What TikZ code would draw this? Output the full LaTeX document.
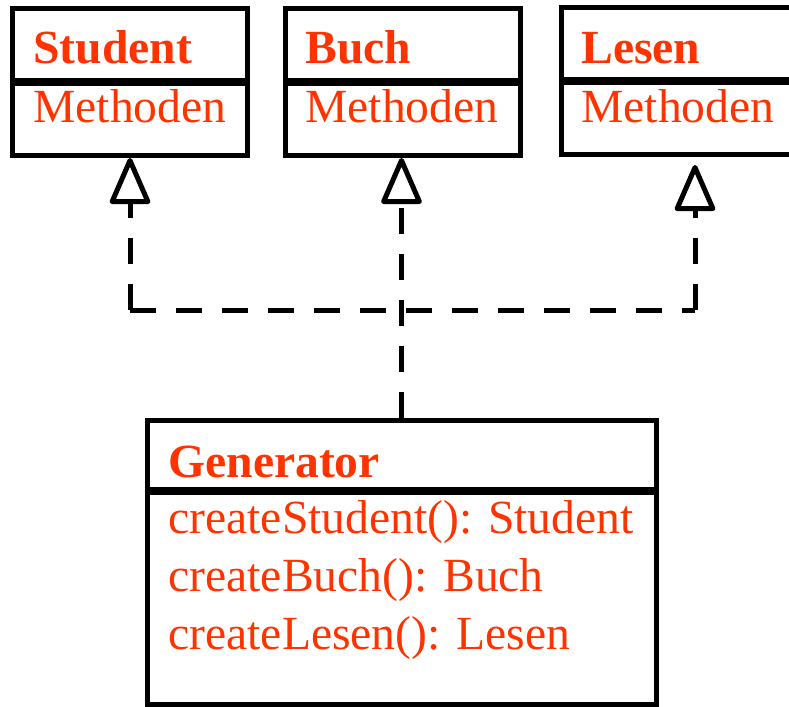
\documentclass[tikz,border=0pt]{standalone}
\usepackage{fontspec}
\setmainfont{Liberation Serif}
\usetikzlibrary{arrows.meta}
\definecolor{umlred}{RGB}{255,51,0}
\begin{document}
\begin{tikzpicture}
	[	x=0.5pt, y=-0.5pt,
	umlbox/.style={rectangle, draw=black, line width=2.5pt, inner sep=0pt},
	divider/.style={line width=4pt},
	title/.style={anchor=base west, inner sep=0pt, text=umlred, font=\fontsize{23.8}{29}\selectfont\bfseries},
	member/.style={anchor=base west, inner sep=0pt, text=umlred, font=\fontsize{23.8}{29}\selectfont},
	realize/.style={line width=2.5pt, dash pattern=on 13pt off 10pt, -{Triangle[open, round, length=25pt, width=21pt]}}
	]
	\useasboundingbox (0,0) rectangle (789,707);
	\clip (0,0) rectangle (789,707);

	\node[umlbox, minimum width=117.5pt, minimum height=73.5pt] (student) at (130,82) {};
	\node[umlbox, minimum width=117.25pt, minimum height=73.5pt] (buch) at (402.75,82) {};
	\node[umlbox, minimum width=133.5pt, minimum height=73.75pt] (lesen) at (695,80.75) {};
	\node[umlbox, minimum width=254.5pt, minimum height=142pt] (gen) at (401.5,562) {};

	\draw[divider] (student.west |- 0,81.5) -- (student.east |- 0,81.5);
	\draw[divider] (buch.west |- 0,81.5) -- (buch.east |- 0,81.5);
	\draw[divider] (lesen.west |- 0,81) -- (lesen.east |- 0,81);
	\draw[divider] (gen.west |- 0,491) -- (gen.east |- 0,491);

	\node[title] (studentname) at (33,63) {Student};
	\node[member] (studentops) at (33,122) {Methoden};
	\node[title] (buchname) at (305,63) {Buch};
	\node[member] (buchops) at (305,122) {Methoden};
	\node[title] (lesenname) at (581,63) {Lesen};
	\node[member] (lesenops) at (581,122) {Methoden};
	\node[title] (genname) at (168,477) {Generator};
	\node[member] (genstudent) at (168,533) {createStudent(): Student};
	\node[member] (genbuch) at (168,591) {createBuch(): Buch};
	\node[member] (genlesen) at (168,649) {createLesen(): Lesen};

	\coordinate (join) at (0,310);
	\draw[realize] (gen.north) -- (gen.north |- buch.south);
	\draw[realize] (student.south |- join) -- (student.south);
	\draw[realize, shorten >=4pt] (lesen.south |- join) -- (lesen.south);
	\draw[line width=2.5pt, dash pattern=on 13pt off 10pt] (student.south |- join) -- (lesen.south |- join);
\end{tikzpicture}
\end{document}
